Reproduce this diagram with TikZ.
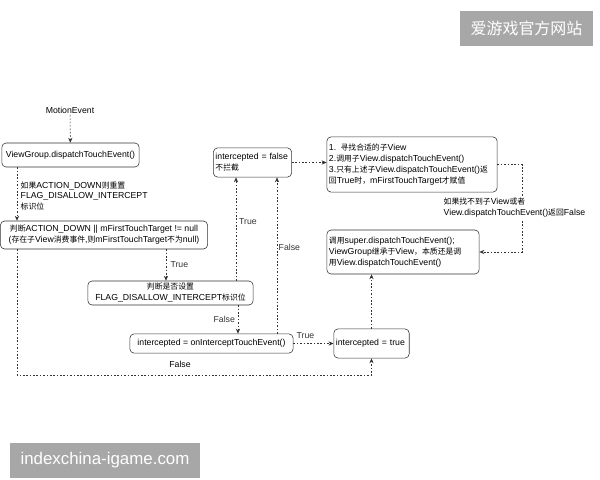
\documentclass[tikz,border=0pt]{standalone}
\usepackage{fontspec}
\setmainfont{Liberation Sans}
\newfontfamily\cjk[Scale=0.9]{Noto Sans CJK SC}
\usetikzlibrary{arrows.meta, positioning}
\definecolor{Line}{rgb}{0.2, 0.2, 0.2}
\definecolor{Stamp}{rgb}{0.655, 0.655, 0.655}
\newcommand{\diagfont}{\fontsize{6.2}{7.8}\selectfont}

\begin{document}
\begin{tikzpicture}[
  x=0.025cm, y=-0.025cm,
  box/.style={
    draw=Line,
    rectangle,
    rounded corners=3pt,
    align=center,
    font=\diagfont,
    inner sep=1.5pt
  },
  leftbox/.style={box, align=left},
  lbl/.style={font=\diagfont, inner sep=1pt},
  arrow/.style={
    -{Stealth[length=3.5pt, width=3pt]},
    dash pattern=on 1.2pt off 1.2pt,
    color=Line
  },
  stampbox/.style={fill=Stamp, text=white, inner sep=0pt}
]
\useasboundingbox (0,0) rectangle (600,480);

% Nodes
\node[lbl] (motion) at (70,110) {MotionEvent};
\node[box, minimum width=3.43cm, minimum height=0.6cm] (vgdispatch) at (70.5,155)
  {ViewGroup.dispatchTouchEvent()};
\node[box, minimum width=5.18cm, minimum height=0.7cm] (checkdown) at (104,235)
  {{\cjk 判断}ACTION\_DOWN || mFirstTouchTarget != null\\({\cjk 存在子}View{\cjk 消费事件},{\cjk 则}mFirstTouchTarget{\cjk 不为}null)};
\node[box, minimum width=4.13cm, minimum height=0.6cm] (checkflag) at (170.5,293)
  {{\cjk 判断是否设置}\\FLAG\_DISALLOW\_INTERCEPT{\cjk 标识位}};
\node[box, minimum width=4.08cm, minimum height=0.48cm] (onintercept) at (211.5,343.5)
  {intercepted = onInterceptTouchEvent()};
\node[leftbox, text width=1.85cm, minimum height=0.73cm] (interfalse) at (252.5,162.5)
  {intercepted = false\\{\cjk 不拦截}};
\node[leftbox, text width=4.15cm, minimum height=1.38cm] (findchild) at (412,164.5)
  {1. {\cjk 寻找合适的子}View\\2.{\cjk 调用子}View.dispatchTouchEvent()\\3.{\cjk 只有上述子}View.dispatchTouchEvent(){\cjk 返}\\{\cjk 回}True{\cjk 时，}mFirstTouchTarget{\cjk 才赋值}};
\node[leftbox, text width=3.7cm, minimum height=1.1cm] (superdispatch) at (403,252)
  {{\cjk 调用}super.dispatchTouchEvent();\\ViewGroup{\cjk 继承于}View{\cjk ，本质还是调}\\{\cjk 用}View.dispatchTouchEvent()};
\node[leftbox, text width=1.78cm, minimum height=0.73cm] (intertrue) at (371.5,343.5)
  {intercepted = true};

% Arrows
\draw[arrow] (motion) -- (vgdispatch);
\draw[arrow] (vgdispatch.south -| 17,0) -- (checkdown.north -| 17,0);
\node[lbl, anchor=west, align=left] at (19,196)
  {{\cjk 如果}ACTION\_DOWN{\cjk 则重置}\\FLAG\_DISALLOW\_INTERCEPT\\{\cjk 标识位}};

\draw[arrow] (checkdown.south -| 166,0) -- (checkflag.north -| 166,0)
  node[lbl, midway, right=2pt] {True};
\draw[arrow] (checkdown.south -| 17,0) -- (17,375) -| (intertrue.south);
\node[lbl] at (180,364) {False};

\draw[arrow] (checkflag.south -| 238,0) -- (onintercept.north -| 238,0)
  node[lbl, midway, left=1pt] {False};
\draw[arrow] (checkflag.north -| 236,0) -- (interfalse.south -| 236,0)
  node[lbl, pos=0.57, right=1pt] {True};

\draw[arrow] (onintercept.north -| 277,0) -- (interfalse.south -| 277,0)
  node[lbl, pos=0.55, right=0pt] {False};
\draw[arrow] (onintercept) -- (intertrue)
  node[lbl, pos=0.3, above=2pt] {True};

\draw[arrow] (interfalse) -- (interfalse -| findchild.west);
\draw[arrow] (findchild.east) -- (522,164.5) |- (superdispatch.east);
\node[lbl, fill=white, align=left, anchor=west] (nochild) at (442,208)
  {{\cjk 如果找不到子}View{\cjk 或者}\\View.dispatchTouchEvent(){\cjk 返回}False};
\draw[arrow] (intertrue) -- (intertrue |- superdispatch.south);

% Stamps
\node[stampbox, minimum width=3.33cm, minimum height=0.88cm, font=\fontsize{12.6}{14}\cjk] (stamptop) at (526.5,28.5)
  {爱游戏官方网站};
\node[stampbox, minimum width=4.75cm, minimum height=0.88cm, font=\fontsize{12}{14}\selectfont] (stampbottom) at (105,460.5)
  {indexchina-igame.com};

\end{tikzpicture}
\end{document}
